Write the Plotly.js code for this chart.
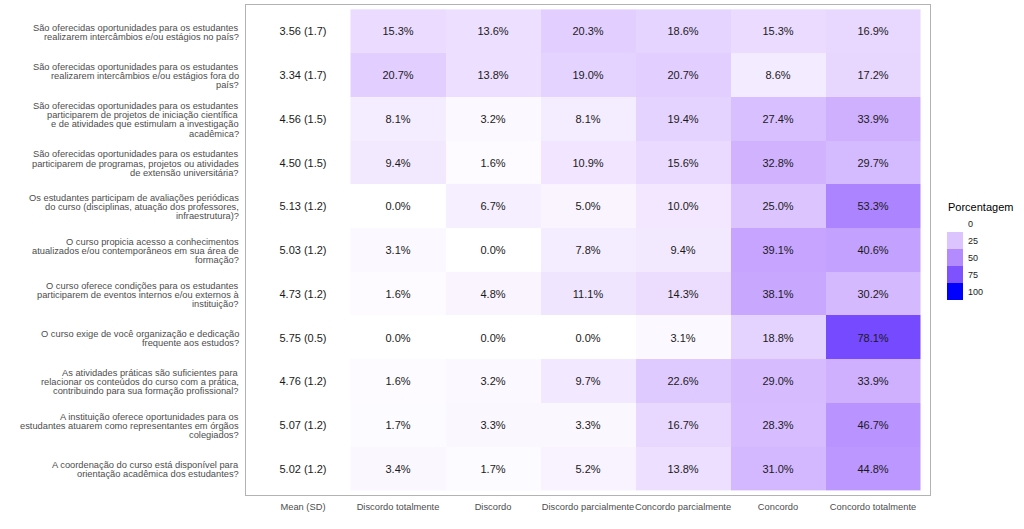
<!DOCTYPE html>
<html>
<head>
<meta charset="utf-8">
<script src="https://cdn.plot.ly/plotly-3.0.1.min.js"></script>
<style>html,body{margin:0;padding:0;background:#fff;}#chart{width:1024px;height:529px;}</style>
</head>
<body>
<div id="chart"></div>
<script>
const questions = [
  "São oferecidas oportunidades para os estudantes<br>realizarem intercâmbios e/ou estágios no país?",
  "São oferecidas oportunidades para os estudantes<br>realizarem intercâmbios e/ou estágios fora do<br>país?",
  "São oferecidas oportunidades para os estudantes<br>participarem de projetos de iniciação científica<br>e de atividades que estimulam a investigação<br>acadêmica?",
  "São oferecidas oportunidades para os estudantes<br>participarem de programas, projetos ou atividades<br>de extensão universitária?",
  "Os estudantes participam de avaliações periódicas<br>do curso (disciplinas, atuação dos professores,<br>infraestrutura)?",
  "O curso propicia acesso a conhecimentos<br>atualizados e/ou contemporâneos em sua área de<br>formação?",
  "O curso oferece condições para os estudantes<br>participarem de eventos internos e/ou externos à<br>instituição?",
  "O curso exige de você organização e dedicação<br>frequente aos estudos?",
  "As atividades práticas são suficientes para<br>relacionar os conteúdos do curso com a prática,<br>contribuindo para sua formação profissional?",
  "A instituição oferece oportunidades para os<br>estudantes atuarem como representantes em órgãos<br>colegiados?",
  "A coordenação do curso está disponível para<br>orientação acadêmica dos estudantes?"
];
const columnLabels = ["Mean (SD)", "Discordo totalmente", "Discordo", "Discordo parcialmente", "Concordo parcialmente", "Concordo", "Concordo totalmente"];
const meanSD = ["3.56 (1.7)", "3.34 (1.7)", "4.56 (1.5)", "4.50 (1.5)", "5.13 (1.2)", "5.03 (1.2)", "4.73 (1.2)", "5.75 (0.5)", "4.76 (1.2)", "5.07 (1.2)", "5.02 (1.2)"];
const discordoTotalmente   = [15.3, 20.7,  8.1,  9.4,  0.0,  3.1,  1.6,  0.0,  1.6,  1.7,  3.4];
const discordo             = [13.6, 13.8,  3.2,  1.6,  6.7,  0.0,  4.8,  0.0,  3.2,  3.3,  1.7];
const discordoParcialmente = [20.3, 19.0,  8.1, 10.9,  5.0,  7.8, 11.1,  0.0,  9.7,  3.3,  5.2];
const concordoParcialmente = [18.6, 20.7, 19.4, 15.6, 10.0,  9.4, 14.3,  3.1, 22.6, 16.7, 13.8];
const concordo             = [15.3,  8.6, 27.4, 32.8, 25.0, 39.1, 38.1, 18.8, 29.0, 28.3, 31.0];
const concordoTotalmente   = [16.9, 17.2, 33.9, 29.7, 53.3, 40.6, 30.2, 78.1, 33.9, 46.7, 44.8];
const legendTicks = [0, 25, 50, 75, 100];
const legendTitle = "Porcentagem";

// Lab interpolation white -> blue (like ggplot scale_fill_gradient)
function srgbToLin(c){c/=255;return c<=0.04045?c/12.92:Math.pow((c+0.055)/1.055,2.4);}
function linToSrgb(c){c=c<=0.0031308?12.92*c:1.055*Math.pow(c,1/2.4)-0.055;return Math.round(Math.max(0,Math.min(1,c))*255);}
const Xn=0.95047,Yn=1.0,Zn=1.08883;
function f(t){return t>0.008856?Math.cbrt(t):7.787*t+16/116;}
function finv(t){return t>0.206893?t*t*t:(t-16/116)/7.787;}
function rgb2lab(r,g,b){r=srgbToLin(r);g=srgbToLin(g);b=srgbToLin(b);
  const X=0.4124*r+0.3576*g+0.1805*b,Y=0.2126*r+0.7152*g+0.0722*b,Z=0.0193*r+0.1192*g+0.9505*b;
  const fx=f(X/Xn),fy=f(Y/Yn),fz=f(Z/Zn);return [116*fy-16,500*(fx-fy),200*(fy-fz)];}
function lab2rgb(L,a,bb){const fy=(L+16)/116,fx=fy+a/500,fz=fy-bb/200;
  const X=Xn*finv(fx),Y=Yn*finv(fy),Z=Zn*finv(fz);
  const r=3.2406*X-1.5372*Y-0.4986*Z,g=-0.9689*X+1.8758*Y+0.0415*Z,b=0.0557*X-0.2040*Y+1.0570*Z;
  return 'rgb('+linToSrgb(r)+','+linToSrgb(g)+','+linToSrgb(b)+')';}
const labLow=rgb2lab(255,255,255),labHigh=rgb2lab(0,0,255);
function colAt(t){return lab2rgb(labLow[0]+(labHigh[0]-labLow[0])*t,labLow[1]+(labHigh[1]-labLow[1])*t,labLow[2]+(labHigh[2]-labLow[2])*t);}
const colorscale=[];for(let i=0;i<=50;i++){colorscale.push([i/50,colAt(i/50)]);}

const respCols=[discordoTotalmente,discordo,discordoParcialmente,concordoParcialmente,concordo,concordoTotalmente];
const nRows=questions.length;
const rowIdx=questions.map((q,i)=>i);
const z=rowIdx.map(i=>respCols.map(c=>c[i]));
const txt=rowIdx.map(i=>respCols.map(c=>c[i].toFixed(1)+'%'));

const FONT='"Liberation Sans", Arial, sans-serif';
const traces=[
  {type:'heatmap',x:[0],y:rowIdx,z:rowIdx.map(()=>[0]),text:rowIdx.map(i=>[meanSD[i]]),texttemplate:'%{text}',
   textfont:{family:FONT,size:11,color:'#1a1a1a'},colorscale:[[0,'#ffffff'],[1,'#ffffff']],showscale:false,hoverinfo:'skip'},
  {type:'heatmap',x:[1,2,3,4,5,6],y:rowIdx,z:z,text:txt,texttemplate:'%{text}',
   textfont:{family:FONT,size:11,color:'#1a1a1a'},colorscale:colorscale,zmin:0,zmax:100,showscale:false,hoverinfo:'skip'}
];

const L=246,R=930,T=5,B=495;
function pxX(x){return (x-L)/(R-L);}
function pxY(y){return 1-(y-T)/(B-T);}
const shapes=[],annotations=[];

// y-axis question labels, one annotation per line, right-aligned
const LH=9.2;
questions.forEach((q,i)=>{
  const lines=q.split('<br>');
  const n=lines.length;
  lines.forEach((ln,k)=>{
    annotations.push({xref:'paper',yref:'y',x:pxX(240),y:i,xanchor:'right',yanchor:'middle',showarrow:false,
      yshift:-((k-(n-1)/2)*LH)-1,text:ln,font:{family:FONT,size:9.3,color:'#4d4d4d'},borderpad:0});
  });
});

annotations.push({xref:'paper',yref:'paper',x:pxX(946),y:pxY(207),xanchor:'left',yanchor:'middle',showarrow:false,
  text:legendTitle,font:{family:FONT,size:11,color:'#000'}});
legendTicks.forEach((v,i)=>{
  const top=215+17*i;
  shapes.push({type:'rect',xref:'paper',yref:'paper',x0:pxX(947),x1:pxX(963),y0:pxY(top),y1:pxY(top+17),
    fillcolor:colAt(v/100),line:{width:0}});
  annotations.push({xref:'paper',yref:'paper',x:pxX(966),y:pxY(top+8.5),xanchor:'left',yanchor:'middle',showarrow:false,
    text:String(v),font:{family:FONT,size:9,color:'#1a1a1a'}});
});

const layout={
  width:1024,height:529,margin:{l:L,r:1024-R,t:T,b:529-B},
  paper_bgcolor:'#fff',plot_bgcolor:'#fff',
  font:{family:FONT},
  xaxis:{range:[-0.6,6.6],tickvals:[0,1,2,3,4,5,6],ticktext:columnLabels,showgrid:false,zeroline:false,
    showline:true,mirror:true,linecolor:'#b3b3b3',linewidth:1,ticks:'',ticklabelstandoff:3,tickangle:0,
    tickfont:{family:FONT,size:9.3,color:'#4d4d4d'},fixedrange:true},
  yaxis:{range:[nRows-0.4,-0.6],tickvals:rowIdx,ticktext:rowIdx.map(()=>''),showgrid:false,zeroline:false,
    showline:true,mirror:true,linecolor:'#b3b3b3',linewidth:1,ticks:'',fixedrange:true},
  shapes:shapes,annotations:annotations,showlegend:false
};
Plotly.newPlot('chart',traces,layout,{displayModeBar:false,staticPlot:true});
</script>
</body>
</html>
